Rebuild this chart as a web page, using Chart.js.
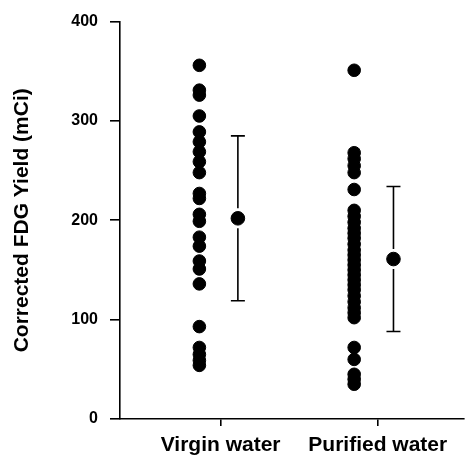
<!DOCTYPE html>
<html>
<head>
<meta charset="utf-8">
<script src="https://cdn.jsdelivr.net/npm/chart.js@4"></script>
<style>
  html, body { margin: 0; padding: 0; background: #fff; }
  #wrap { width: 472px; height: 467px; }
</style>
</head>
<body>
<div id="wrap"><canvas id="chart0" width="472" height="467"></canvas></div>
<script>
const categories = ["Virgin water", "Purified water"];
const virginWater = [356, 331, 326, 305, 289, 279, 269, 259, 248, 227, 222, 206, 199, 183, 174, 159, 151, 136, 93, 72, 65, 59, 54];
const purifiedWater = [351, 268, 262, 255, 248, 231, 210, 204, 198, 192, 187, 182, 176, 170, 165, 160, 155, 150, 145, 140, 135, 130, 124, 118, 112, 107, 102, 72, 60, 45, 40, 35];
const means = [202, 161];
const sds = [83, 73];
const yTicks = [0, 100, 200, 300, 400];

// dots sit left of the category tick, mean +/- sd to the right
const DOT_SHIFT = [-0.135, -0.15];
const MEAN_SHIFT = [0.11, 0.1];

const toPoints = (vals, i) => vals.map(v => ({ x: i + 1 + DOT_SHIFT[i], y: v }));

const errorBars = {
  id: 'errorBars',
  afterDatasetsDraw(chart) {
    const { ctx, scales: { x, y } } = chart;
    ctx.save();
    ctx.strokeStyle = '#000';
    ctx.lineWidth = 1.6;
    means.forEach((m, i) => {
      const px = x.getPixelForValue(i + 1 + MEAN_SHIFT[i]);
      const top = y.getPixelForValue(m + sds[i]);
      const bot = y.getPixelForValue(m - sds[i]);
      const mid = y.getPixelForValue(m);
      const gap = 10;
      ctx.beginPath();
      ctx.moveTo(px, top); ctx.lineTo(px, mid - gap);
      ctx.moveTo(px, mid + gap); ctx.lineTo(px, bot);
      ctx.moveTo(px - 7, top); ctx.lineTo(px + 7, top);
      ctx.moveTo(px - 7, bot); ctx.lineTo(px + 7, bot);
      ctx.stroke();
    });
    ctx.restore();
  }
};

const chart0 = document.getElementById('chart0');
const myChart0 = new Chart(chart0, {
  type: 'scatter',
  data: {
    datasets: [
      {
        label: categories[0],
        data: toPoints(virginWater, 0),
        backgroundColor: '#000',
        borderColor: '#000',
        pointRadius: 6.3,
        pointHoverRadius: 6.3
      },
      {
        label: categories[1],
        data: toPoints(purifiedWater, 1),
        backgroundColor: '#000',
        borderColor: '#000',
        pointRadius: 6.3,
        pointHoverRadius: 6.3
      },
      {
        label: 'Mean',
        data: means.map((m, i) => ({ x: i + 1 + MEAN_SHIFT[i], y: m })),
        backgroundColor: '#000',
        borderColor: '#000',
        pointRadius: 6.8,
        pointHoverRadius: 6.8
      }
    ]
  },
  options: {
    responsive: false,
    animation: false,
    layout: { padding: { left: 0, right: 0, top: 20, bottom: 0 } },
    plugins: {
      legend: { display: false },
      tooltip: { enabled: false }
    },
    scales: {
      x: {
        type: 'linear',
        min: 0.36,
        max: 2.55,
        afterBuildTicks: (axis) => { axis.ticks = categories.map((c, i) => ({ value: i + 1 })); },
        afterFit: (axis) => { axis.height = 48; },
        border: { color: '#000', width: 1.6 },
        grid: { display: true, drawOnChartArea: false, drawTicks: true, tickLength: 7, color: '#000', lineWidth: 1.6 },
        ticks: {
          color: '#000',
          padding: 7,
          maxRotation: 0,
          font: { family: 'Liberation Sans', size: 21, weight: 'bold' },
          callback: (v) => categories[v - 1]
        }
      },
      y: {
        min: 0,
        max: 400,
        afterBuildTicks: (axis) => { axis.ticks = yTicks.map(v => ({ value: v })); },
        afterFit: (axis) => { axis.width = 120; },
        border: { color: '#000', width: 1.6 },
        grid: { display: true, drawOnChartArea: false, drawTicks: true, tickLength: 10, color: '#000', lineWidth: 1.6 },
        ticks: {
          color: '#000',
          padding: 12,
          font: { family: 'Liberation Sans', size: 16, weight: 'bold' }
        },
        title: {
          display: true,
          text: 'Corrected FDG Yield (mCi)',
          color: '#000',
          padding: { top: 10, bottom: 0 },
          font: { family: 'Liberation Sans', size: 21, weight: 'bold' }
        }
      }
    }
  },
  plugins: [errorBars]
});
</script>
</body>
</html>
